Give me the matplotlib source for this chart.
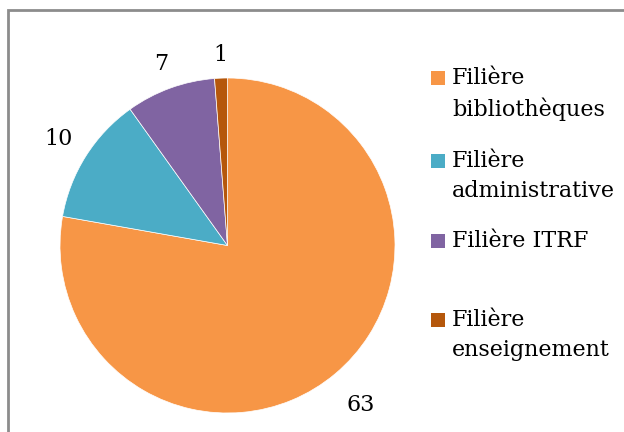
import matplotlib.pyplot as plt
from matplotlib.patches import Rectangle

labels = ["Filière\nbibliothèques", "Filière\nadministrative", "Filière ITRF", "Filière\nenseignement"]
values = [63, 10, 7, 1]
colors = ["#F79646", "#4BACC6", "#8064A2", "#B5570B"]
legend_y = [78, 161, 241, 320]  # pixel rows of first legend line
label_dist = [1.24, 1.19, 1.15, 1.14]

W, H = 624, 432
plt.rcParams["font.family"] = ["DejaVu Serif"]

fig = plt.figure(figsize=(W / 100, H / 100), dpi=100)

# frame (only left and top edges show in the reference)
fig.patches.append(Rectangle((7.5 / W, -0.1), 1.2, (H - 10.5) / H + 0.1,
                             transform=fig.transFigure, fill=False,
                             edgecolor="#8c8c8c", linewidth=2))

cx, cy, r = 227.5, 245.5, 167.5
ax = fig.add_axes([(cx - r) / W, (H - cy - r) / H, 2 * r / W, 2 * r / H])
wedges, texts = ax.pie(values, labels=[str(v) for v in values], colors=colors,
                       startangle=90, counterclock=False, labeldistance=1.0,
                       wedgeprops=dict(edgecolor="white", linewidth=0.5),
                       textprops=dict(fontsize=16))
for t, d in zip(texts, label_dist):
    x, y = t.get_position()
    t.set_position((x * d, y * d))
    t.set_ha("center")
ax.set_xlim(-1, 1)
ax.set_ylim(-1, 1)
ax.set_aspect("equal")
ax.axis("off")

# legend drawn by hand to follow the uneven row spacing
for lab, col, y in zip(labels, colors, legend_y):
    fig.patches.append(Rectangle((431 / W, (H - y - 7) / H), 14 / W, 14 / H,
                                 transform=fig.transFigure, facecolor=col,
                                 edgecolor="none"))
    fig.text(452 / W, (H - y + 11) / H, lab, fontsize=16, va="top",
             linespacing=1.45)

fig.savefig("out.png", dpi=100)
